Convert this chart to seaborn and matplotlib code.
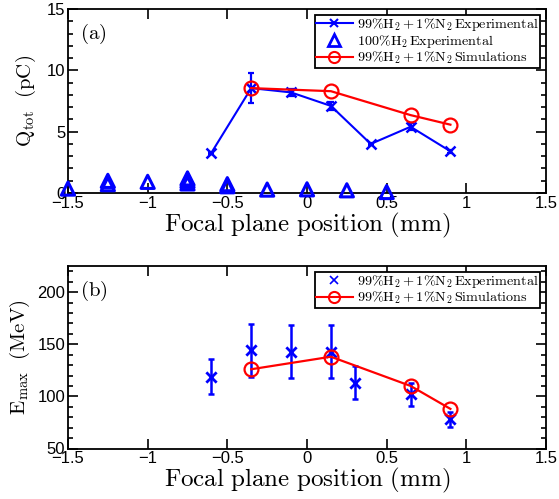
import matplotlib
matplotlib.use("Agg")
import matplotlib.pyplot as plt
import seaborn as sns
import numpy as np
import pandas as pd
from matplotlib.ticker import MultipleLocator
from matplotlib.lines import Line2D

# ---------------- data ----------------
pos_exp = [-0.6, -0.35, -0.1, 0.15, 0.4, 0.65, 0.9]
q_exp = [3.28, 8.55, 8.2, 7.1, 4.0, 5.4, 3.4]
q_err = [0.1, 1.2, 0.3, 0.3, 0.1, 0.3, 0.1]

pos_sim = [-0.35, 0.15, 0.65, 0.9]
q_sim = [8.55, 8.3, 6.35, 5.57]

tri_x = [-1.5, -1.25, -1.25, -1.0, -0.75, -0.75, -0.75, -0.5, -0.5, -0.25, 0.0, 0.25, 0.5]
tri_y = [0.36, 0.99, 0.72, 0.91, 1.19, 0.99, 0.78, 0.72, 0.55, 0.28, 0.3, 0.22, 0.08]

pos_e = [-0.6, -0.35, -0.1, 0.15, 0.3, 0.65, 0.9]
e_exp = [119, 144, 143, 143, 113, 102, 78]
e_err = [17, 25, 25, 25, 16, 11, 7]
e_sim = [126, 138, 110, 88]

xticks = [-1.5, -1, -0.5, 0, 0.5, 1, 1.5]
xticklabels = ["\u22121.5", "\u22121", "\u22120.5", "0", "0.5", "1", "1.5"]

lab_exp = r"$99\%\mathrm{H}_2 + 1\%\mathrm{N}_2\,\mathrm{Experimental}$"
lab_h2 = r"$100\%\mathrm{H}_2\,\mathrm{Experimental}$"
lab_sim = r"$99\%\mathrm{H}_2 + 1\%\mathrm{N}_2\,\mathrm{Simulations}$"

# ---------------- style ----------------
plt.rcParams["mathtext.fontset"] = "cm"
plt.rcParams["font.family"] = ["Liberation Sans", "DejaVu Sans"]
plt.rcParams["axes.linewidth"] = 1.3

BLUE = "#0000ff"
RED = "#ff0000"

fig = plt.figure(figsize=(5.59, 4.99), dpi=100)
W, H = 559, 499
ax1 = fig.add_axes([68 / W, (H - 193) / H, 478 / W, 184 / H])
ax2 = fig.add_axes([68 / W, (H - 448.5) / H, 478 / W, 182.5 / H])

def style_axes(ax, ymin, ymax, ymin_step, yticks):
    ax.set_xlim(-1.5, 1.5)
    ax.set_ylim(ymin, ymax)
    ax.set_xticks(xticks)
    ax.set_xticklabels(xticklabels)
    ax.set_yticks(yticks)
    ax.set_yticklabels([str(t) for t in yticks])
    ax.yaxis.set_minor_locator(MultipleLocator(ymin_step))
    ax.tick_params(which="both", direction="in", top=True, right=True,
                   labelsize=12, width=1.2, pad=2)
    ax.tick_params(which="major", length=7.5)
    ax.tick_params(which="minor", length=3.6)
    ax.tick_params(axis="x", which="minor", bottom=False, top=False)
    for s in ax.spines.values():
        s.set_color("black")
    ax.set_xlabel(r"$\mathrm{Focal\ plane\ position\ (mm)}$", fontsize=18, labelpad=0)

def make_legend(ax, handles, labels):
    leg = ax.legend(handles, labels, loc="upper right",
                    fontsize=10.2, frameon=True, fancybox=False, framealpha=1,
                    edgecolor="black", borderpad=0.1, labelspacing=0.0,
                    handlelength=2.6, handletextpad=0.3, borderaxespad=0.4)
    leg.get_frame().set_linewidth(1.3)
    return leg

# ---------------- panel (a) ----------------
df_exp = pd.DataFrame({"pos": pos_exp, "q": q_exp})
df_sim = pd.DataFrame({"pos": pos_sim, "q": q_sim})
df_tri = pd.DataFrame({"pos": tri_x, "q": tri_y})

sns.lineplot(data=df_exp, x="pos", y="q", ax=ax1, color=BLUE, marker="x",
             markersize=7, markeredgewidth=1.8, markeredgecolor=BLUE,
             linewidth=1.5, errorbar=None, zorder=3)
ax1.errorbar(pos_exp, q_exp, yerr=q_err, fmt="none", ecolor=BLUE,
             elinewidth=1.6, capsize=2.5, capthick=1.6, zorder=3)
sns.scatterplot(data=df_tri, x="pos", y="q", ax=ax1, marker="^", s=90,
                facecolor="none", edgecolor=BLUE, linewidth=2.2, zorder=4,
                clip_on=False)
sns.lineplot(data=df_sim, x="pos", y="q", ax=ax1, color=RED, marker="o",
             markersize=10, markerfacecolor="none", markeredgecolor=RED,
             markeredgewidth=1.6, linewidth=1.6, errorbar=None, zorder=5)

style_axes(ax1, 0, 15, 1, [0, 5, 10, 15])
ax1.set_ylabel(r"$\mathrm{Q_{tot}\ \ (pC)}$", fontsize=15, labelpad=6)
ax1.text(0.025, 0.93, r"$\mathrm{(a)}$", transform=ax1.transAxes,
         fontsize=15, va="top", ha="left")

h1 = [
    Line2D([], [], color=BLUE, marker="x", markersize=6, markeredgewidth=1.5, linewidth=1.5),
    Line2D([], [], color=BLUE, marker="^", markersize=8, markerfacecolor="none",
           markeredgewidth=2, linestyle="none"),
    Line2D([], [], color=RED, marker="o", markersize=8, markerfacecolor="none",
           markeredgewidth=1.5, linewidth=1.5),
]
make_legend(ax1, h1, [lab_exp, lab_h2, lab_sim])

# ---------------- panel (b) ----------------
df_e = pd.DataFrame({"pos": pos_e, "e": e_exp})
df_es = pd.DataFrame({"pos": pos_sim, "e": e_sim})

ax2.errorbar(pos_e, e_exp, yerr=e_err, fmt="none", ecolor=BLUE,
             elinewidth=1.8, capsize=2.5, capthick=1.8, zorder=3)
sns.scatterplot(data=df_e, x="pos", y="e", ax=ax2, marker="x", s=55,
                color=BLUE, linewidth=2, zorder=4)
sns.lineplot(data=df_es, x="pos", y="e", ax=ax2, color=RED, marker="o",
             markersize=10, markerfacecolor="none", markeredgecolor=RED,
             markeredgewidth=1.6, linewidth=1.6, errorbar=None, zorder=5)

style_axes(ax2, 50, 225, 10, [50, 100, 150, 200])
ax2.set_ylabel(r"$\mathrm{E_{max}\ \ (MeV)}$", fontsize=15, labelpad=4)
ax2.text(0.025, 0.93, r"$\mathrm{(b)}$", transform=ax2.transAxes,
         fontsize=15, va="top", ha="left")

h2 = [
    Line2D([], [], color=BLUE, marker="x", markersize=6, markeredgewidth=1.2, linestyle="none"),
    Line2D([], [], color=RED, marker="o", markersize=8, markerfacecolor="none",
           markeredgewidth=1.5, linewidth=1.5),
]
make_legend(ax2, h2, [lab_exp, lab_sim])

fig.savefig("out.png", dpi=100)
